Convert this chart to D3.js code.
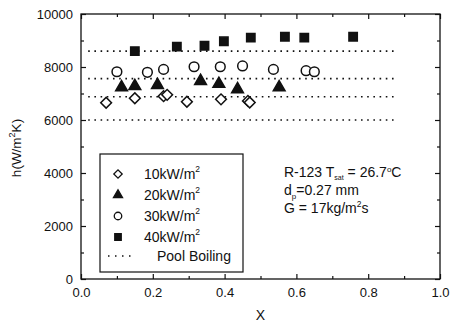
<!DOCTYPE html>
<html>
<head>
<meta charset="utf-8">
<script src="https://cdn.jsdelivr.net/npm/d3@7"></script>
<style>
  body { margin: 0; background: #fff; }
  svg text { font-family: "Liberation Sans", Arial, sans-serif; fill: #111; }
</style>
</head>
<body>
<div id="chart"></div>
<script>
// heat flux series (x = quality, h in W/m2K)
const q10X = [0.07, 0.15, 0.23, 0.24, 0.295, 0.39, 0.465, 0.47];
const q10H = [6650, 6820, 6900, 6950, 6690, 6780, 6720, 6660];
const q20X = [0.113, 0.15, 0.213, 0.333, 0.384, 0.436, 0.552];
const q20H = [7230, 7280, 7320, 7470, 7360, 7160, 7230];
const q30X = [0.10, 0.185, 0.23, 0.315, 0.388, 0.45, 0.536, 0.627, 0.65];
const q30H = [7820, 7800, 7910, 8010, 8010, 8040, 7910, 7860, 7820];
const q40X = [0.15, 0.267, 0.344, 0.398, 0.473, 0.568, 0.622, 0.758];
const q40H = [8600, 8770, 8800, 8970, 9110, 9140, 9110, 9140];
// pool boiling reference levels
const poolH = [8600, 7560, 6880, 6000];
const poolRange = [0.02, 0.88];

const xTicks = [0, 0.2, 0.4, 0.6, 0.8, 1.0];
const yTicks = [0, 2000, 4000, 6000, 8000, 10000];
const legendLabels = ["10kW/m", "20kW/m", "30kW/m", "40kW/m"];

const W = 454, H = 324;
const margin = { top: 14, right: 14, bottom: 45, left: 81 };
const width = W - margin.left - margin.right;
const height = H - margin.top - margin.bottom;

const svg = d3.select("#chart").append("svg")
  .attr("width", W).attr("height", H);
const g = svg.append("g")
  .attr("transform", `translate(${margin.left},${margin.top})`);

const x = d3.scaleLinear().domain([0, 1]).range([0, width]);
const y = d3.scaleLinear().domain([0, 10000]).range([height, 0]);

// frame
g.append("rect")
  .attr("width", width).attr("height", height)
  .attr("fill", "none").attr("stroke", "#111").attr("stroke-width", 1.3);

function styleAxis(sel) {
  sel.select(".domain").remove();
  sel.selectAll("line").attr("stroke", "#111").attr("stroke-width", 1.2);
}

const minorX = d3.range(0.1, 1, 0.2);
const minorY = d3.range(1000, 10000, 2000);

// bottom
g.append("g").attr("transform", `translate(0,${height})`)
  .call(d3.axisBottom(x).tickValues(xTicks).tickSize(-5).tickPadding(9).tickFormat(d3.format(".1f")))
  .call(styleAxis)
  .selectAll("text").attr("font-size", 13).attr("fill", "#111");
g.append("g").attr("transform", `translate(0,${height})`)
  .call(d3.axisBottom(x).tickValues(minorX).tickSize(-3).tickFormat(""))
  .call(styleAxis);
// top
g.append("g")
  .call(d3.axisTop(x).tickValues(xTicks).tickSize(-5).tickFormat(""))
  .call(styleAxis);
g.append("g")
  .call(d3.axisTop(x).tickValues(minorX).tickSize(-3).tickFormat(""))
  .call(styleAxis);
// left
g.append("g")
  .call(d3.axisLeft(y).tickValues(yTicks).tickSize(-5).tickPadding(8).tickFormat(d3.format("d")))
  .call(styleAxis)
  .selectAll("text").attr("font-size", 13).attr("fill", "#111");
g.append("g")
  .call(d3.axisLeft(y).tickValues(minorY).tickSize(-3).tickFormat(""))
  .call(styleAxis);
// right
g.append("g").attr("transform", `translate(${width},0)`)
  .call(d3.axisRight(y).tickValues(yTicks).tickSize(-5).tickFormat(""))
  .call(styleAxis);
g.append("g").attr("transform", `translate(${width},0)`)
  .call(d3.axisRight(y).tickValues(minorY).tickSize(-3).tickFormat(""))
  .call(styleAxis);

// axis titles
svg.append("text")
  .attr("x", margin.left + width / 2).attr("y", 320)
  .attr("text-anchor", "middle").attr("font-size", 14).text("X");

const yl = svg.append("text")
  .attr("transform", "translate(21,148) rotate(-90)")
  .attr("text-anchor", "middle").attr("font-size", 13.5);
yl.append("tspan").text("h(W/m");
yl.append("tspan").attr("font-size", 9).attr("dy", -6).text("2");
yl.append("tspan").attr("dy", 6).text("K)");

// pool boiling dotted lines
g.selectAll(".pool").data(poolH).enter().append("line")
  .attr("class", "pool")
  .attr("x1", x(poolRange[0])).attr("x2", x(poolRange[1]))
  .attr("y1", d => y(d)).attr("y2", d => y(d))
  .attr("stroke", "#111").attr("stroke-width", 1.6)
  .attr("stroke-dasharray", "1.6,4.6");

// markers
const series = [
  { xs: q10X, hs: q10H, type: d3.symbolSquare, size: 58, rot: 45, fill: "#fff" },
  { xs: q20X, hs: q20H, type: d3.symbolTriangle, size: 60, rot: 0, fill: "#111" },
  { xs: q30X, hs: q30H, type: d3.symbolCircle, size: 74, rot: 0, fill: "#fff" },
  { xs: q40X, hs: q40H, type: d3.symbolSquare, size: 70, rot: 0, fill: "#111" }
];

series.forEach(s => {
  const sym = d3.symbol().type(s.type).size(s.size);
  g.selectAll(null).data(s.xs.map((v, i) => [v, s.hs[i]])).enter().append("path")
    .attr("d", sym)
    .attr("transform", d => `translate(${x(d[0])},${y(d[1])}) rotate(${s.rot})`)
    .attr("fill", s.fill).attr("stroke", "#111").attr("stroke-width", 1.5);
});

// legend
const lg = svg.append("g");
lg.append("rect")
  .attr("x", 100).attr("y", 154).attr("width", 143).attr("height", 118)
  .attr("fill", "#fff").attr("stroke", "#111").attr("stroke-width", 1.2);

const rowY = [174, 195, 216, 237];
series.forEach((s, i) => {
  const sym = d3.symbol().type(s.type).size(s.size * 0.6);
  lg.append("path")
    .attr("d", sym)
    .attr("transform", `translate(118,${rowY[i]}) rotate(${s.rot})`)
    .attr("fill", s.fill).attr("stroke", "#111").attr("stroke-width", 1.3);
  const t = lg.append("text").attr("x", 144).attr("y", rowY[i] + 5).attr("font-size", 14);
  t.append("tspan").text(legendLabels[i]);
  t.append("tspan").attr("font-size", 8.5).attr("dy", -7).text("2");
});
lg.append("line")
  .attr("x1", 108).attr("x2", 135).attr("y1", 256).attr("y2", 256)
  .attr("stroke", "#111").attr("stroke-width", 1.5).attr("stroke-dasharray", "1.5,5.5");
lg.append("text").attr("x", 157).attr("y", 261).attr("font-size", 14).text("Pool Boiling");

// conditions note
const note = svg.append("g").attr("font-size", 14);
const t1 = note.append("text").attr("x", 284).attr("y", 177);
t1.append("tspan").text("R-123 T");
t1.append("tspan").attr("font-size", 7).attr("dy", 3).text("sat");
t1.append("tspan").attr("dy", -3).text(" = 26.7");
t1.append("tspan").attr("font-size", 8).attr("dy", -5).text("o");
t1.append("tspan").attr("dy", 5).text("C");

const t2 = note.append("text").attr("x", 284).attr("y", 195);
t2.append("tspan").text("d");
t2.append("tspan").attr("font-size", 8).attr("dy", 4).text("p");
t2.append("tspan").attr("dy", -4).text("=0.27 mm");

const t3 = note.append("text").attr("x", 284).attr("y", 213);
t3.append("tspan").text("G = 17kg/m");
t3.append("tspan").attr("font-size", 8.5).attr("dy", -6).text("2");
t3.append("tspan").attr("dy", 6).text("s");
</script>
</body>
</html>
